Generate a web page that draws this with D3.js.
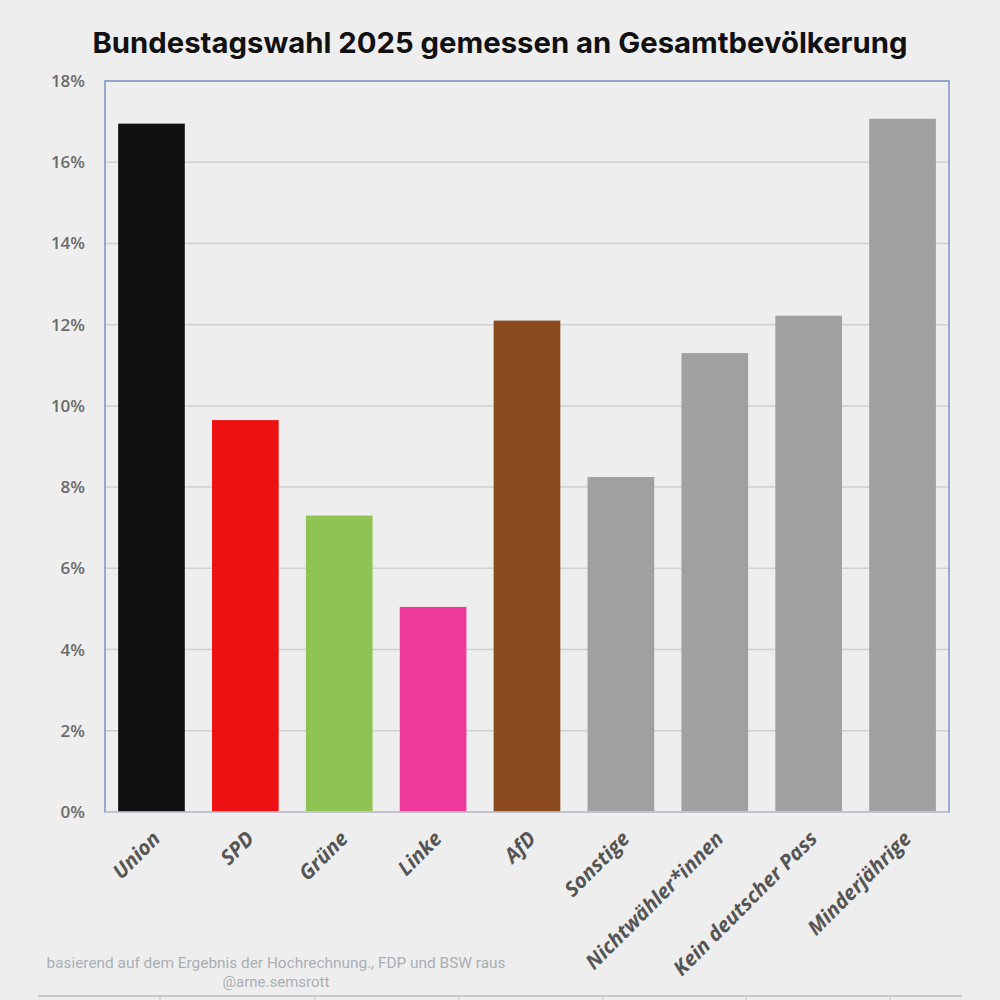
<!DOCTYPE html>
<html><head><meta charset="utf-8">
<script src="https://cdn.jsdelivr.net/npm/d3@7"></script>
<style>body{margin:0;background:#eeeeee}</style>
</head><body>
<svg id="chart" width="1000" height="1000"></svg>
<script>
const categories = ["Union","SPD","Grüne","Linke","AfD","Sonstige","Nichtwähler*innen","Kein deutscher Pass","Minderjährige"];
const values = [16.95, 9.65, 7.3, 5.05, 12.1, 8.25, 11.3, 12.22, 17.07];
const colors = ["#111111","#ee1111","#8fc452","#ee3a9a","#8a4a1e","#a0a0a0","#a0a0a0","#a0a0a0","#a0a0a0"];
const yTicks = [0,2,4,6,8,10,12,14,16,18];
const footTicks = [160,315,459,603,746,890];

const svg = d3.select("#chart");
svg.append("rect").attr("width",1000).attr("height",1000).attr("fill","#eeeeee");

const m = {left:105, right:949, top:81, bottom:812};
const x = d3.scaleBand().domain(categories).range([m.left, m.right]).paddingInner(0.29).paddingOuter(0.14);
const y = d3.scaleLinear().domain([0,18]).range([m.bottom, m.top]);

svg.append("text").attr("x",500).attr("y",53).attr("text-anchor","middle")
  .attr("font-family","Inter, 'Open Sans', sans-serif").attr("font-weight",700).attr("font-size",29)
  .attr("textLength",815).attr("lengthAdjust","spacingAndGlyphs")
  .attr("fill","#111").text("Bundestagswahl 2025 gemessen an Gesamtbevölkerung");

// grid
svg.append("g").selectAll("line").data(yTicks.slice(1)).join("line")
  .attr("x1",m.left).attr("x2",m.right).attr("y1",d=>y(d)).attr("y2",d=>y(d))
  .attr("stroke","#cfcfcf").attr("stroke-width",1.5);

// plot frame
svg.append("rect").attr("x",m.left).attr("y",m.top).attr("width",m.right-m.left).attr("height",m.bottom-m.top)
  .attr("fill","none").attr("stroke","#7f93c6").attr("stroke-width",1.5);

// y axis labels
const yAxis = d3.axisLeft(y).tickValues(yTicks).tickFormat(d=>d+"%").tickSize(0).tickPadding(20);
svg.append("g").attr("transform",`translate(${m.left},0)`).call(yAxis)
  .call(g=>g.select(".domain").remove())
  .selectAll("text").attr("font-family","'Open Sans', sans-serif").attr("font-size",17)
  .attr("fill","#6a6a6a").attr("font-weight",600);

// bars
svg.append("g").selectAll("rect").data(values).join("rect")
  .attr("x",(d,i)=>x(categories[i])).attr("width",x.bandwidth())
  .attr("y",d=>y(d)).attr("height",d=>y(0)-y(d)).attr("fill",(d,i)=>colors[i]);

// baseline
svg.append("line").attr("x1",m.left).attr("x2",m.right).attr("y1",m.bottom).attr("y2",m.bottom)
  .attr("stroke","#cccccc").attr("stroke-width",1.5);

// x labels
svg.append("g").selectAll("text").data(categories).join("text")
  .attr("transform",d=>`translate(${x(d)+x.bandwidth()/2+10},${m.bottom+28}) rotate(-45)`)
  .attr("text-anchor","end").attr("font-family","'Open Sans', sans-serif").attr("font-weight",700)
  .attr("font-style","italic").attr("font-size",20.5).attr("fill","#555").text(d=>d);

// footnote
svg.append("text").attr("x",276).attr("y",968).attr("text-anchor","middle")
  .attr("font-family","Roboto, sans-serif").attr("font-size",15).attr("fill","#a9aeb4")
  .attr("textLength",459).attr("lengthAdjust","spacingAndGlyphs")
  .text("basierend auf dem Ergebnis der Hochrechnung., FDP und BSW raus");
svg.append("text").attr("x",276).attr("y",987).attr("text-anchor","middle")
  .attr("font-family","Roboto, sans-serif").attr("font-size",15).attr("fill","#a9aeb4")
  .text("@arne.semsrott");

// bottom table line
svg.append("line").attr("x1",38).attr("x2",962).attr("y1",996).attr("y2",996).attr("stroke","#c8c8c8").attr("stroke-width",2);
svg.append("g").selectAll("line").data(footTicks).join("line")
  .attr("x1",d=>d).attr("x2",d=>d).attr("y1",996).attr("y2",1000).attr("stroke","#c8c8c8");
</script>
</body></html>
